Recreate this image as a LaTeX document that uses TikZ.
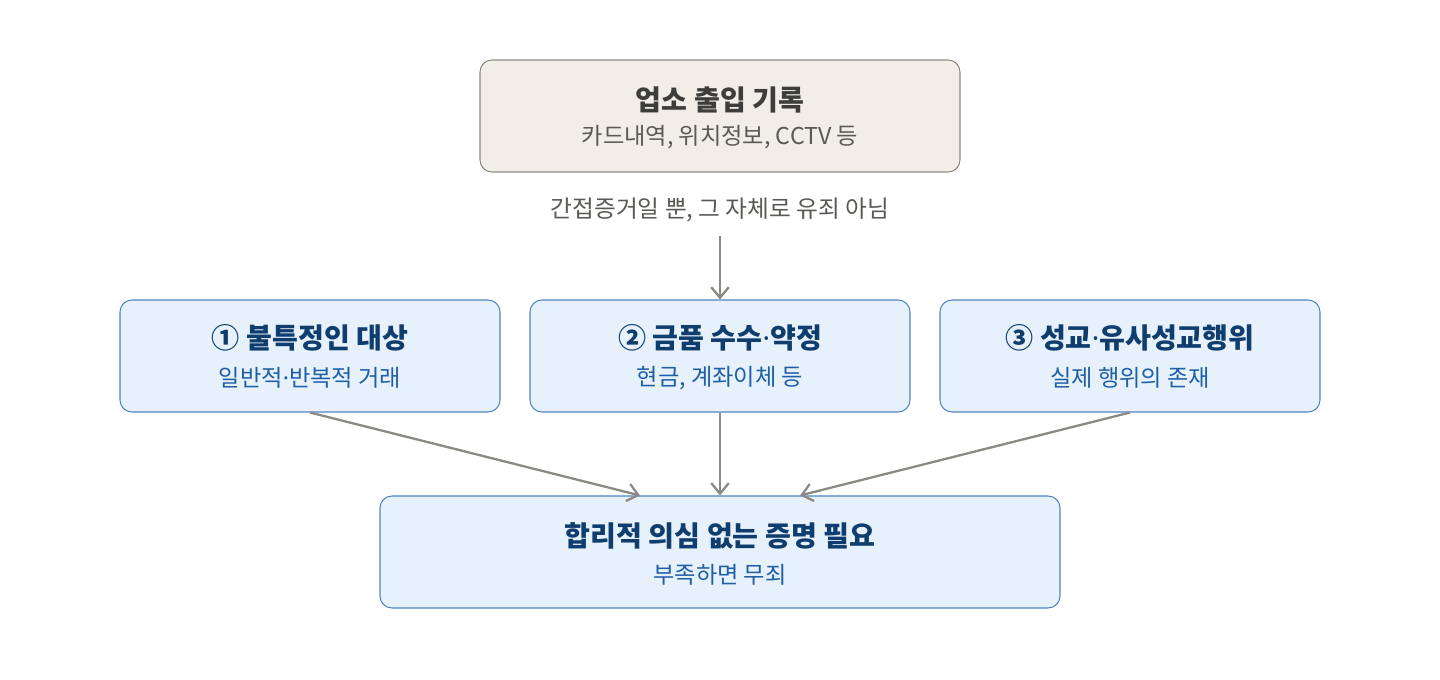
\documentclass[tikz,border=0pt]{standalone}
\usepackage{fontspec}
\setmainfont{Noto Sans CJK KR}
\newfontfamily\dotfont{Noto Sans}
\newcommand{\md}{{\dotfont ·}}
\usetikzlibrary{arrows.meta}
\definecolor{recfill}{HTML}{F1EEE8}
\definecolor{recline}{HTML}{8C8A84}
\definecolor{rectitle}{HTML}{3D3D3A}
\definecolor{recsub}{HTML}{5A5955}
\definecolor{reqfill}{HTML}{E6F1FB}
\definecolor{reqline}{HTML}{4F83C4}
\definecolor{reqtitle}{HTML}{0E3D6E}
\definecolor{reqsub}{HTML}{1F5FA8}
\definecolor{arrgray}{HTML}{8A8984}
\begin{document}
\begin{tikzpicture}[
  rec/.style={draw=recline, fill=recfill, line width=0.6pt, rounded corners=0.24cm,
    minimum width=9.6cm, minimum height=2.24cm},
  req/.style={draw=reqline, fill=reqfill, line width=0.6pt, rounded corners=0.24cm,
    minimum width=7.6cm, minimum height=2.24cm},
  ttl/.style={font=\fontsize{16}{19}\selectfont\bfseries, inner sep=0pt},
  sub/.style={font=\fontsize{13.2}{15}\selectfont, inner sep=0pt},
  arr/.style={-{Straight Barb[length=6pt, width=10pt]}, line width=1.3pt, draw=arrgray}
]
\useasboundingbox (0,0) rectangle (28.8,-13.6);

\node[rec] (rec) at (14.4,-2.32) {};
\node[ttl, text=rectitle] (rect) at ([yshift=0.32cm]rec.center) {업소 출입 기록};
\node[sub, text=recsub] (recs) at ([yshift=-0.42cm]rec.center) {카드내역, 위치정보, CCTV 등};

\node[sub, text=recsub, inner sep=2pt, font=\fontsize{13.5}{15}\selectfont] (note) at (14.4,-4.2) {간접증거일 뿐, 그 자체로 유죄 아님};

\node[req] (b1) at (6.2,-7.12) {};
\node[ttl, text=reqtitle] (b1t) at ([yshift=0.36cm]b1.center) {① 불특정인 대상};
\node[sub, text=reqsub] (b1s) at ([yshift=-0.44cm]b1.center) {일반적\md 반복적 거래};

\node[req] (b2) at (14.4,-7.12) {};
\node[ttl, text=reqtitle] (b2t) at ([yshift=0.36cm]b2.center) {② 금품 수수\md 약정};
\node[sub, text=reqsub] (b2s) at ([yshift=-0.44cm]b2.center) {현금, 계좌이체 등};

\node[req] (b3) at (22.6,-7.12) {};
\node[ttl, text=reqtitle] (b3t) at ([yshift=0.36cm]b3.center) {③ 성교\md 유사성교행위};
\node[sub, text=reqsub] (b3s) at ([yshift=-0.44cm]b3.center) {실제 행위의 존재};

\node[req, minimum width=13.6cm] (goal) at (14.4,-11.04) {};
\node[ttl, text=reqtitle] (goalt) at ([yshift=0.32cm]goal.center) {합리적 의심 없는 증명 필요};
\node[sub, text=reqsub] (goals) at ([yshift=-0.46cm]goal.center) {부족하면 무죄};

\coordinate (in1) at ([xshift=-1.6cm]goal.north);
\coordinate (in3) at ([xshift=1.6cm]goal.north);

\draw[arr, shorten <=6pt] (note) -- (b2);
\draw[arr] (b1.south) -- (in1);
\draw[arr] (b2.south) -- (goal.north);
\draw[arr] (b3.south) -- (in3);
\end{tikzpicture}
\end{document}
